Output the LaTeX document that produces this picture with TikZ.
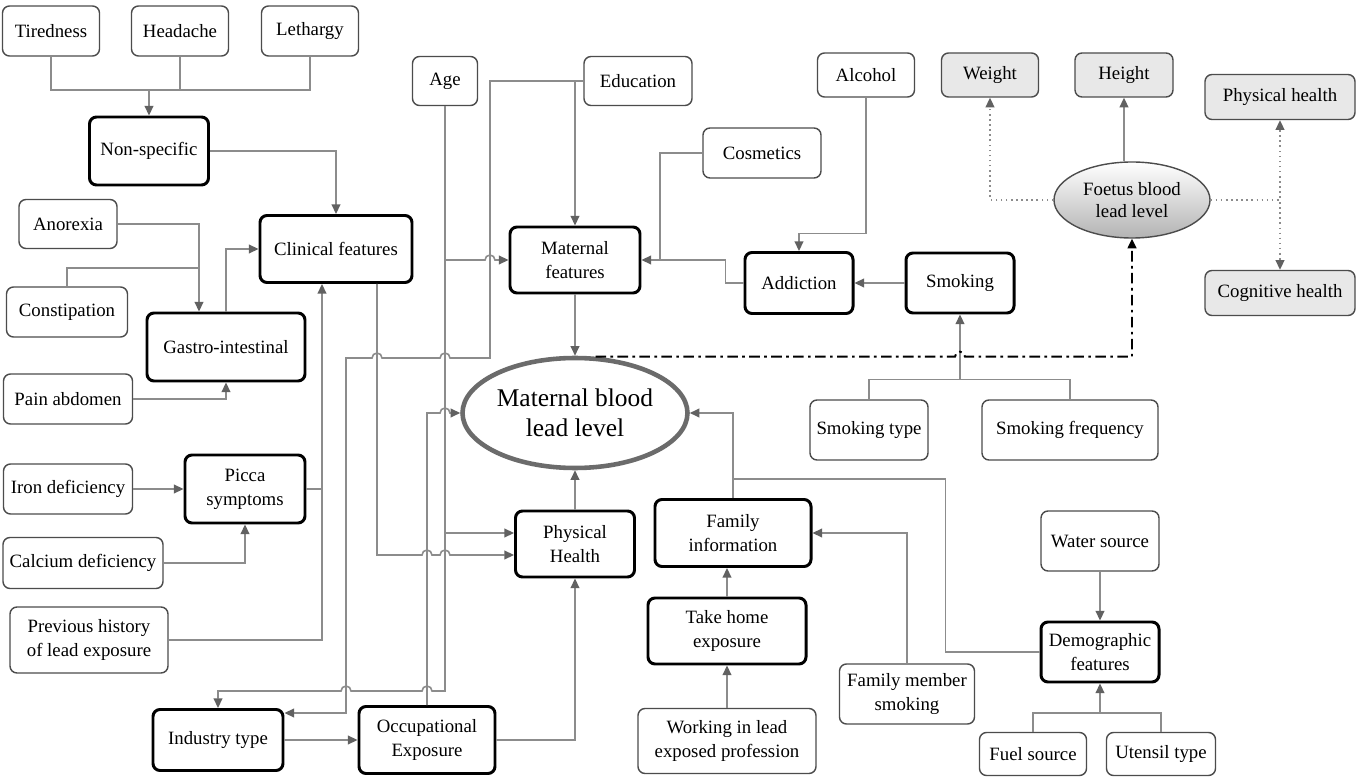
\documentclass[tikz,border=0pt]{standalone}
\usepackage{fontspec}
\setmainfont{Liberation Serif}
\usetikzlibrary{arrows.meta,shapes.geometric,calc}

\tikzset{
  box/.style={draw=black!70, line width=0.8pt, rounded corners=4pt, fill=white, align=center,
    inner sep=1pt, font=\fontsize{10.7}{13.5}\selectfont},
  keybox/.style={box, draw=black, line width=1.7pt},
  outbox/.style={box, fill=black!9},
  wh/.style 2 args={minimum width=#1*0.02cm, minimum height=#2*0.02cm},
  line/.style={draw=black!45, line width=0.9pt},
  conn/.style={line, -{Triangle[length=5.5pt,width=5pt,color=black!62]}},
  dotconn/.style={conn, dotted},
  dashconn/.style={draw=black, line width=1.1pt, dash pattern=on 6pt off 2.5pt on 1.5pt off 2.5pt,
    -{Triangle[length=5.5pt,width=5pt]}}
}
% small bridges where lines cross
\newcommand{\hopr}{arc[start angle=180,end angle=0,radius=2.835pt]}
\newcommand{\hopl}{arc[start angle=0,end angle=180,radius=2.835pt]}

\begin{document}
\begin{tikzpicture}[x=0.02cm,y=-0.02cm]
\useasboundingbox (0,0) rectangle (1360,780);
\fill[white] (0,0) rectangle (1360,780);

% clinical side
\foreach \n/\x/\t in {tired/51/Tiredness,head/180/Headache,leth/310/Lethargy}
  \node[box,wh={97}{50}] (\n) at (\x,31) {\t};
\node[keybox,wh={119}{68}] (nonspec) at (149,151) {Non-specific};
\node[box,wh={98}{49}] (anorexia) at (68,224) {Anorexia};
\node[keybox,wh={152}{67}] (clinical) at (336,249) {Clinical features};
\node[box,wh={121}{50}] (constip) at (67,312) {Constipation};
\node[keybox,wh={158}{68}] (gastro) at (226,347) {Gastro-intestinal};
\node[box,wh={129}{50}] (pain) at (68,399) {Pain abdomen};
\node[box,wh={129}{50}] (iron) at (68,489) {Iron deficiency};
\node[keybox,wh={120}{68}] (picca) at (245,489) {Picca\\symptoms};
\node[box,wh={160}{51}] (calcium) at (83,563) {Calcium deficiency};
\node[box,wh={158}{66}] (prevhist) at (89,640) {Previous history\\of lead exposure};
\node[keybox,wh={130}{61}] (industry) at (218,740) {Industry type};
\node[keybox,wh={136}{67}] (occup) at (427,740) {Occupational\\Exposure};

% maternal side
\node[box,wh={65}{49}] (age) at (445,81) {Age};
\node[box,wh={108}{49}] (edu) at (638,81) {Education};
\node[keybox,wh={130}{66}] (matfeat) at (575,260) {Maternal\\features};
\node[box,wh={118}{50}] (cosm) at (762,153) {Cosmetics};
\node[box,wh={97}{44}] (alcohol) at (866,75) {Alcohol};
\node[keybox,wh={108}{61}] (addict) at (799,283) {Addiction};
\node[keybox,wh={108}{60}] (smoking) at (960,283) {Smoking};
\node[box,wh={118}{60}] (smtype) at (869,430) {Smoking type};
\node[box,wh={176}{60}] (smfreq) at (1070,430) {Smoking frequency};
\node[ellipse,draw=black!58,line width=2.6pt,wh={225}{110},inner sep=0pt,align=center,
  font=\fontsize{14.5}{17}\selectfont] (mbll) at (575,413) {Maternal blood\\lead level};
\node[keybox,wh={119}{66}] (physical) at (575,544) {Physical\\Health};

% family and surroundings
\node[keybox,wh={156}{67}] (faminfo) at (733,533) {Family\\information};
\node[keybox,wh={158}{66}] (takehome) at (727,631) {Take home\\exposure};
\node[box,wh={178}{65}] (working) at (727,741) {Working in lead\\exposed profession};
\node[box,wh={135}{60}] (fammem) at (907,694) {Family member\\smoking};
\node[box,wh={118}{60}] (water) at (1100,541) {Water source};
\node[keybox,wh={118}{60}] (demog) at (1100,652) {Demographic\\features};
\node[box,wh={107}{43}] (fuel) at (1033,754) {Fuel source};
\node[box,wh={109}{43}] (utensil) at (1161,754) {Utensil type};

% foetus
\node[ellipse,draw=black!70,line width=0.8pt,top color=white,bottom color=black!30,wh={156}{76},
  inner sep=0pt,align=center,font=\fontsize{10.7}{13}\selectfont] (foetus) at (1132,200) {Foetus blood\\lead level};
\node[outbox,wh={97}{44}] (fweight) at (990,75) {Weight};
\node[outbox,wh={98}{44}] (fheight) at (1124,75) {Height};
\node[outbox,wh={150}{45}] (physh) at (1280,97) {Physical health};
\node[outbox,wh={150}{45}] (cogh) at (1280,293) {Cognitive health};

% symptoms
\coordinate (symbus) at (149,90);
\draw[line] (tired.south) |- (leth.south|-symbus) -- (leth.south);
\draw[line] (head.south) -- (head.south|-symbus);
\draw[conn] (symbus) -- (nonspec.north);
\draw[conn] (nonspec.east) -| (clinical.north);
\draw[conn] (anorexia.east) -| (199,0|-gastro.north);
\draw[line] (constip.north) |- (199,268);
\draw[conn] (gastro.north) |- (clinical.west);
\draw[conn] (pain.east) -| (gastro.south);
\draw[conn] (iron.east) -- (picca.west);
\draw[conn] (calcium.east) -| (picca.south);
\draw[conn] (picca.east) -| (322,0|-clinical.south);
\draw[line] (prevhist.east) -| (322,489);
\draw[conn] (377,0|-clinical.south) -- (377,555) -- (422,555) \hopr -- (440,555) \hopr -- (physical.west|-0,555);

% age and education
\draw[conn] (age.south) |- (485,0|-matfeat.west) \hopr -- (matfeat.west);
\draw[conn] (age.south) |- (physical.west|-0,533);
\draw[conn] (age.south) -- (445,691) -- (432,691) \hopl -- (351,691) \hopl -| (industry.north);
\draw[conn] (edu.west) -| (matfeat.north);
\draw[conn] (edu.west) -| (490,358) -- (450,358) \hopl -- (382,358) \hopl -- (346,358) |- (industry.east|-0,713);

% maternal features
\draw[conn] (matfeat.south) -- (mbll.north);
\draw[line] (cosm.west) -| (660,0|-matfeat.east);
\draw[conn] (addict.west) -- ++(-18,0) |- (matfeat.east);
\draw[conn] (alcohol.south) -- ++(0,136) -| (addict.north);
\draw[conn] (smoking.west) -- (addict.east);
\draw[line] (smtype.north) -- ++(0,-20) -| (smfreq.north);
\draw[conn] (smoking.south|-0,380) -- (smoking.south);

% into maternal blood lead level
\draw[conn] (physical.north) -- (mbll.south);
\draw[conn] (occup.east) -| (physical.south);
\draw[conn] (industry.east) -- (occup.west);
\draw[conn] (occup.north) |- (440,0|-mbll.west) \hopr -- (mbll.west);
\draw[conn] (faminfo.north) |- (mbll.east);
\draw[line] (demog.west) -- ++(-94,0) |- (faminfo.north|-0,479);
\draw[conn] (fammem.north) |- (faminfo.east);
\draw[conn] (takehome.north) -- (takehome.north|-faminfo.south);
\draw[conn] (working.north) -- (takehome.south);
\draw[conn] (water.south) -- (demog.north);
\draw[line] (fuel.north) -- ++(0,-19) -| (utensil.north);
\draw[conn] (demog.south|-0,713) -- (demog.south);

% foetus
\draw[dashconn] (mbll.70) -- (955,0|-mbll.70) \hopr -| (foetus.south);
\draw[dotconn] (foetus.west) -| (fweight.south);
\draw[conn] (foetus.north-|fheight.south) -- (fheight.south);
\draw[dotconn] (foetus.east) -| (physh.south);
\draw[dotconn] (foetus.east) -| (cogh.north);
\end{tikzpicture}
\end{document}
